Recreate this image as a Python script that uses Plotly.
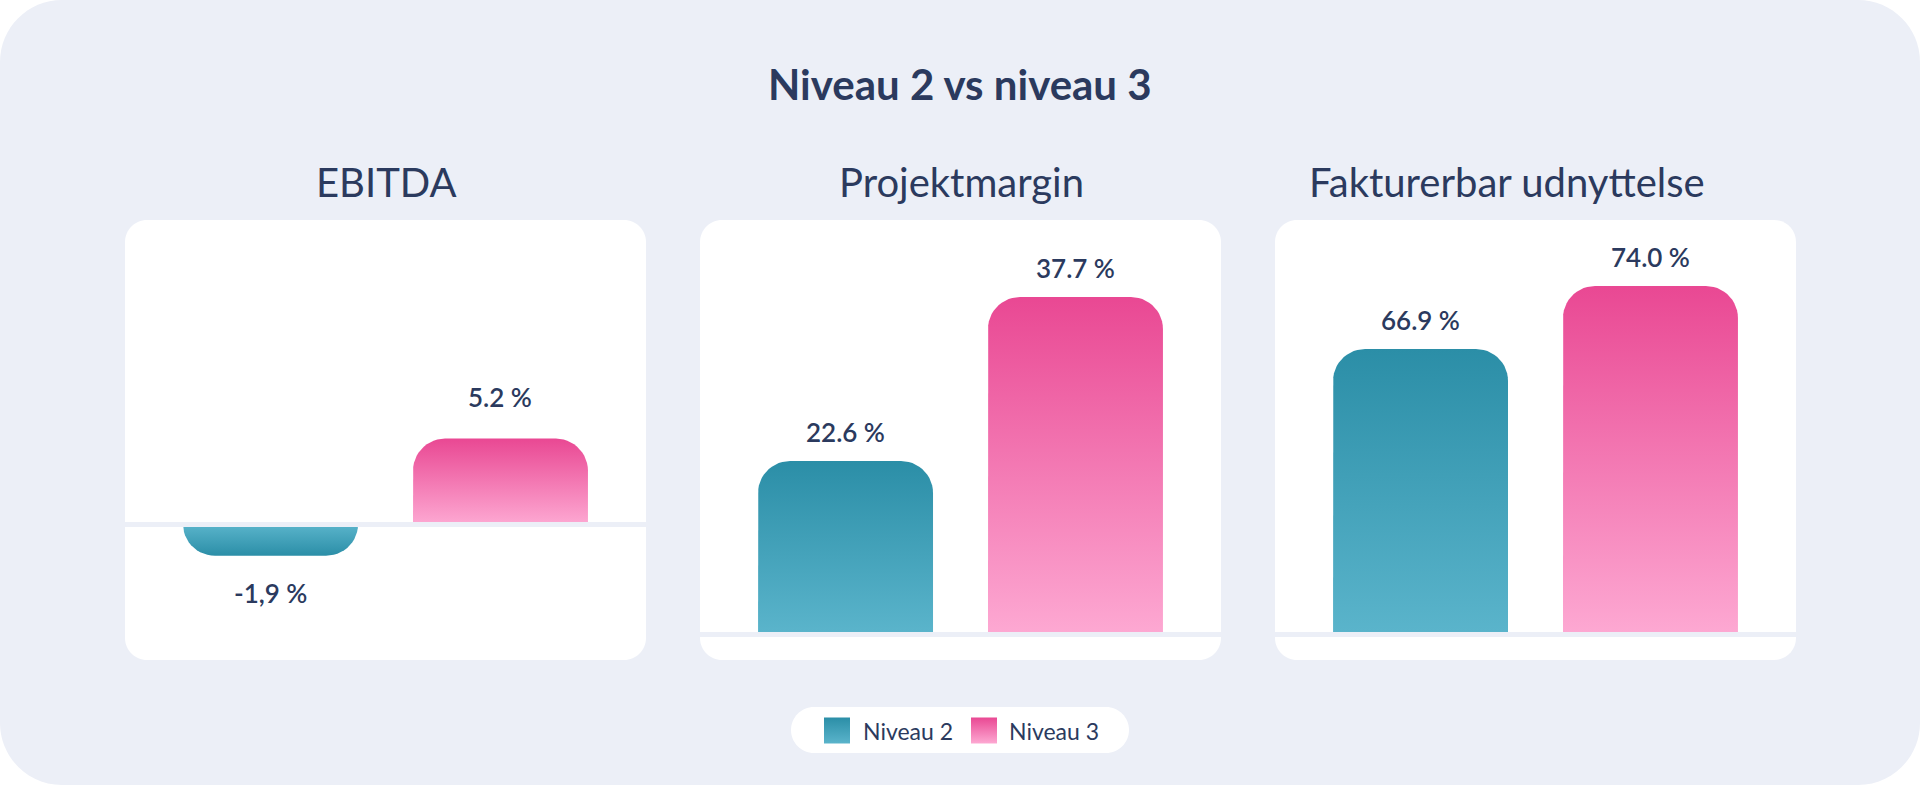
import numpy as np
import plotly.graph_objects as go

W, H = 1920, 785

# ---------------- data ----------------
metrics = ["EBITDA", "Projektmargin", "Fakturerbar udnyttelse"]
series_names = ["Niveau 2", "Niveau 3"]
niveau2 = [-1.9, 22.6, 66.9]
niveau3 = [5.2, 37.7, 74.0]
labels2 = ["-1,9 %", "22.6 %", "66.9 %"]
labels3 = ["5.2 %", "37.7 %", "74.0 %"]
y_ranges = [[-6.52, 18.45], [6.85, 44.79], [35.0, 81.44]]

# ---------------- style ----------------
BG = "#ECEFF7"
TEXT = "#2B3A5E"
FONT = "Lato"
TEAL = ("#2B8EA7", "#5AB4CB")   # tip colour, base colour
PINK = ("#E94893", "#FDA8D2")
series_colors = [TEAL, PINK]

card_x = [(125, 646), (700, 1221), (1275, 1796)]
card_top, card_bot = 220, 660
plot_top, plot_bot = 220, 632
title_x = [386, 961, 1507]
title_y = 182
label_shift_pos = [42, 29, 29]
label_shift_neg = [37, 29, 29]
X_RANGE = [-0.633, 1.633]
BAR_W = 0.761
CORNER_PX = 32


def pxx(x):
    return x / W


def pxy(y):
    return 1 - y / H


def rounded_rect(x0, y0, x1, y1, r):
    k = 0.5523

    def P(x, y):
        return f"{pxx(x):.6f},{pxy(y):.6f}"

    return (f"M{P(x0 + r, y0)} L{P(x1 - r, y0)} "
            f"C{P(x1 - r + k * r, y0)} {P(x1, y0 + r - k * r)} {P(x1, y0 + r)} "
            f"L{P(x1, y1 - r)} "
            f"C{P(x1, y1 - r + k * r)} {P(x1 - r + k * r, y1)} {P(x1 - r, y1)} "
            f"L{P(x0 + r, y1)} "
            f"C{P(x0 + r - k * r, y1)} {P(x0, y1 - r + k * r)} {P(x0, y1 - r)} "
            f"L{P(x0, y0 + r)} "
            f"C{P(x0, y0 + r - k * r)} {P(x0 + r - k * r, y0)} {P(x0 + r, y0)} Z")


def bar_poly(xc, v, base, rx, ry):
    hw = BAR_W / 2
    sgn = 1 if v >= base else -1
    ry = min(ry, abs(v - base))
    t = np.linspace(0, np.pi / 2, 14)
    xs, ys = [xc - hw], [base]
    for a in t:
        ang = np.pi - a
        xs.append(xc - hw + rx + rx * np.cos(ang))
        ys.append(v - sgn * ry + sgn * ry * np.sin(ang))
    for a in t:
        ang = np.pi / 2 - a
        xs.append(xc + hw - rx + rx * np.cos(ang))
        ys.append(v - sgn * ry + sgn * ry * np.sin(ang))
    xs += [xc + hw, xc - hw]
    ys += [base, base]
    return xs, ys


fig = go.Figure()
shapes = []
annotations = []

# outer background
shapes.append(dict(type="path", xref="paper", yref="paper",
                   path=rounded_rect(0, 0, W, H, 62),
                   fillcolor=BG, line=dict(width=0), layer="below"))

plot_h = plot_bot - plot_top
for i, metric in enumerate(metrics):
    ax = "" if i == 0 else str(i + 1)
    x0, x1 = card_x[i]
    # card
    shapes.append(dict(type="path", xref="paper", yref="paper",
                       path=rounded_rect(x0, card_top, x1, card_bot, 22),
                       fillcolor="white", line=dict(width=0), layer="below"))
    ymin, ymax = y_ranges[i]
    fig.layout[f"xaxis{ax}"] = dict(domain=[pxx(x0), pxx(x1)], range=X_RANGE,
                                    visible=False, fixedrange=True,
                                    anchor=f"y{ax}")
    fig.layout[f"yaxis{ax}"] = dict(domain=[pxy(plot_bot), pxy(plot_top)],
                                    range=[ymin, ymax], visible=False,
                                    fixedrange=True, anchor=f"x{ax}")
    kx = (x1 - x0) / (X_RANGE[1] - X_RANGE[0])
    ky = plot_h / (ymax - ymin)
    rx = CORNER_PX / kx
    ry = CORNER_PX / ky
    base = 0 if ymin < 0 else ymin
    vals = [niveau2[i], niveau3[i]]
    labs = [labels2[i], labels3[i]]
    for j, v in enumerate(vals):
        xs, ys = bar_poly(j, v, base, rx, ry)
        tip, bcol = series_colors[j]
        cs = [[0, bcol], [1, tip]] if v >= base else [[0, tip], [1, bcol]]
        fig.add_trace(go.Scatter(
            x=xs, y=ys, fill="toself", mode="lines",
            line=dict(width=0, color="rgba(0,0,0,0)"),
            fillgradient=dict(type="vertical", colorscale=cs),
            name=series_names[j], showlegend=False, hoverinfo="skip",
            xaxis=f"x{ax}", yaxis=f"y{ax}"))
        shift = label_shift_pos[i] if v >= 0 else -label_shift_neg[i]
        annotations.append(dict(
            x=j, y=v, xref=f"x{ax}", yref=f"y{ax}", text=labs[j],
            showarrow=False, yshift=shift, yanchor="middle",
            font=dict(family=FONT, size=26, color=TEXT, weight=600)))
    # baseline bands
    if ymin < 0:
        shapes.append(dict(type="line", xref=f"x{ax} domain", yref=f"y{ax}",
                           x0=0, x1=1, y0=0, y1=0,
                           line=dict(color=BG, width=5), layer="above"))
    else:
        shapes.append(dict(type="rect", xref="paper", yref="paper",
                           x0=pxx(x0), x1=pxx(x1), y0=pxy(plot_bot + 5),
                           y1=pxy(plot_bot), fillcolor=BG,
                           line=dict(width=0), layer="above"))
    # panel title
    annotations.append(dict(x=pxx(title_x[i]), y=pxy(title_y), xref="paper",
                            yref="paper", text=metric, showarrow=False,
                            xanchor="center", yanchor="middle",
                            font=dict(family=FONT, size=40, color=TEXT)))

# main title
annotations.append(dict(x=0.5, y=pxy(84), xref="paper", yref="paper",
                        text="<b>Niveau 2 vs niveau 3</b>", showarrow=False,
                        xanchor="center", yanchor="middle",
                        font=dict(family=FONT, size=42, color=TEXT)))

# custom legend
lg_x0, lg_x1, lg_y0, lg_y1 = 791, 1129, 707, 753
shapes.append(dict(type="path", xref="paper", yref="paper",
                   path=rounded_rect(lg_x0, lg_y0, lg_x1, lg_y1, 23),
                   fillcolor="white", line=dict(width=0), layer="below"))
fig.layout["xaxis4"] = dict(domain=[pxx(lg_x0), pxx(lg_x1)], range=[lg_x0, lg_x1],
                            visible=False, fixedrange=True, anchor="y4")
fig.layout["yaxis4"] = dict(domain=[pxy(lg_y1), pxy(lg_y0)], range=[lg_y1, lg_y0],
                            visible=False, fixedrange=True, anchor="x4")
key_x = [837, 984]
text_x = [861, 1007]
key_y = 730.5
for j, name in enumerate(series_names):
    tip, bcol = series_colors[j]
    fig.add_trace(go.Scatter(
        x=[key_x[j]], y=[key_y], mode="markers",
        marker=dict(symbol="square", size=26, color=tip,
                    gradient=dict(type="vertical", color=bcol),
                    line=dict(width=0)),
        name=name, showlegend=False, hoverinfo="skip",
        xaxis="x4", yaxis="y4"))
    annotations.append(dict(x=pxx(text_x[j]), y=pxy(key_y), xref="paper",
                            yref="paper", text=name, showarrow=False,
                            xanchor="left", yanchor="middle",
                            font=dict(family=FONT, size=23, color=TEXT)))

fig.update_layout(
    width=W, height=H,
    margin=dict(l=0, r=0, t=0, b=0),
    paper_bgcolor="white", plot_bgcolor="rgba(0,0,0,0)",
    shapes=shapes, annotations=annotations, showlegend=False,
    font=dict(family=FONT, color=TEXT),
)

fig.write_html("out.html", config={"displayModeBar": False})
